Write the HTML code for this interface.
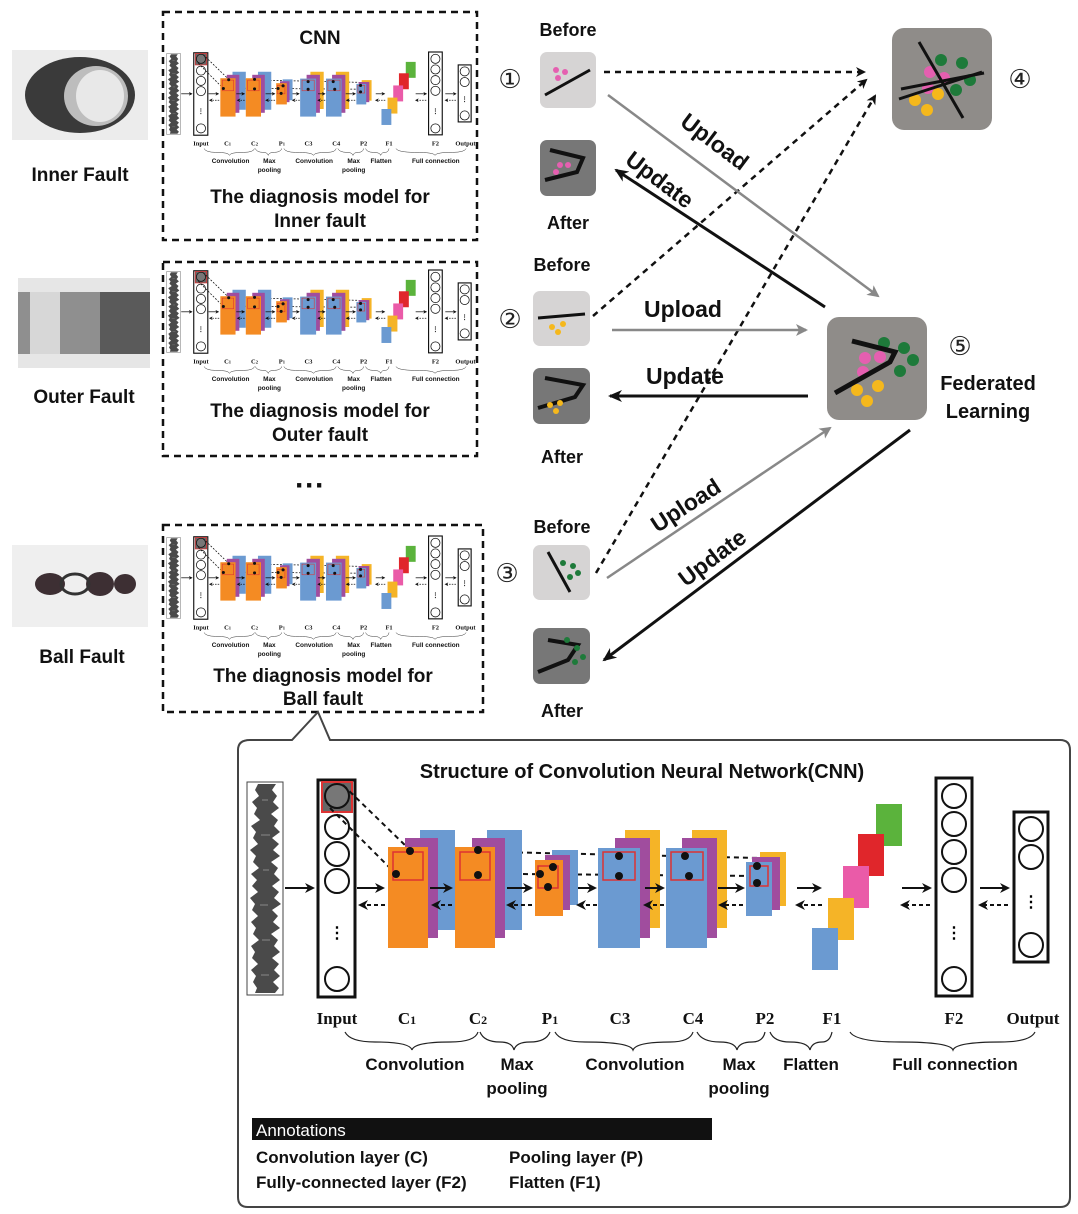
<!DOCTYPE html>
<html><head><meta charset="utf-8"><style>
html,body{margin:0;padding:0;background:#fff}
svg{display:block}
.s{font-family:"Liberation Sans",sans-serif;font-weight:bold}
.r{font-family:"Liberation Serif",serif;font-weight:bold}
</style></head><body>
<svg width="1078" height="1214" viewBox="0 0 1078 1214" xmlns="http://www.w3.org/2000/svg">
<defs>
<marker id="ab" markerWidth="10" markerHeight="10" refX="8" refY="5" orient="auto" markerUnits="userSpaceOnUse"><path d="M0,0 L10,5 L0,10 L3,5 z" fill="#111"/></marker>
<marker id="ag" markerWidth="12" markerHeight="12" refX="10" refY="6" orient="auto" markerUnits="userSpaceOnUse"><path d="M0,0 L12,6 L0,12 L3,6 z" fill="#888"/></marker>
<marker id="ak" markerWidth="14" markerHeight="12" refX="12" refY="6" orient="auto" markerUnits="userSpaceOnUse"><path d="M0,0 L14,6 L0,12 L4,6 z" fill="#111"/></marker>
<g id="cnn">
  <!-- signal -->
  <rect x="247" y="782" width="36" height="213" fill="#fff" stroke="#444" stroke-width="1"/>
  <path d="M258,784 L255,790 L259,796 L252,802 L257,808 L254,814 L260,820 L251,826 L256,832 L253,838 L258,844 L250,850 L256,856 L253,862 L259,868 L251,874 L257,880 L252,886 L258,892 L250,898 L255,904 L252,910 L258,916 L251,922 L256,928 L253,934 L259,940 L251,946 L255,952 L252,958 L258,964 L251,970 L256,976 L253,982 L257,988 L255,993 L275,993 L279,988 L273,982 L280,976 L274,970 L279,964 L272,958 L280,952 L274,946 L278,940 L271,934 L280,928 L273,922 L278,916 L272,910 L281,904 L274,898 L279,892 L272,886 L280,880 L274,874 L278,868 L271,862 L280,856 L273,850 L279,844 L272,838 L280,832 L274,826 L278,820 L271,814 L279,808 L273,802 L277,796 L272,790 L276,784 z" fill="#4a4a4a"/>
  <g stroke="#888" stroke-width="1"><line x1="262" y1="800" x2="268" y2="800"/><line x1="261" y1="835" x2="270" y2="835"/><line x1="263" y1="870" x2="269" y2="870"/><line x1="260" y1="905" x2="268" y2="905"/><line x1="262" y1="940" x2="270" y2="940"/><line x1="261" y1="975" x2="269" y2="975"/></g>
  <line x1="285" y1="888" x2="313" y2="888" stroke="#111" stroke-width="2" marker-end="url(#ab)"/>
  <!-- input column -->
  <rect x="318" y="780" width="37" height="217" fill="#fff" stroke="#111" stroke-width="3"/>
  <rect x="322" y="782" width="30" height="30" fill="#666" stroke="#d33" stroke-width="2"/>
  <circle cx="337" cy="796" r="12" fill="#777" stroke="#111" stroke-width="2"/>
  <g fill="none" stroke="#111" stroke-width="2"><circle cx="337" cy="827" r="12"/><circle cx="337" cy="854" r="12"/><circle cx="337" cy="881" r="12"/><circle cx="337" cy="979" r="12"/></g>
  <text x="337" y="938" font-size="16" text-anchor="middle" class="s">⋮</text>
  <g stroke="#111" stroke-width="2" stroke-dasharray="5,4" fill="none">
   <line x1="343" y1="785" x2="410" y2="850"/><line x1="330" y1="808" x2="395" y2="873"/>
   <path d="M410,850 L760,858"/><path d="M397,873 L760,876"/>
  </g>
  <!-- layers -->
  <g>
   <rect x="420" y="830" width="35" height="100" fill="#6b9ad1"/><rect x="405" y="838" width="33" height="100" fill="#a04d9e"/><rect x="388" y="847" width="40" height="101" fill="#f48b23"/>
   <rect x="487" y="830" width="35" height="100" fill="#6b9ad1"/><rect x="472" y="838" width="33" height="100" fill="#a04d9e"/><rect x="455" y="847" width="40" height="101" fill="#f48b23"/>
   <rect x="552" y="850" width="26" height="55" fill="#6b9ad1"/><rect x="545" y="855" width="25" height="55" fill="#a04d9e"/><rect x="535" y="860" width="28" height="56" fill="#f48b23"/>
   <rect x="625" y="830" width="35" height="98" fill="#f5b427"/><rect x="615" y="838" width="35" height="100" fill="#a04d9e"/><rect x="598" y="848" width="42" height="100" fill="#6b9ad1"/>
   <rect x="692" y="830" width="35" height="98" fill="#f5b427"/><rect x="682" y="838" width="35" height="100" fill="#a04d9e"/><rect x="666" y="848" width="41" height="100" fill="#6b9ad1"/>
   <rect x="760" y="852" width="26" height="54" fill="#f5b427"/><rect x="752" y="857" width="28" height="53" fill="#a04d9e"/><rect x="746" y="862" width="26" height="54" fill="#6b9ad1"/>
  </g>
  <g fill="none" stroke="#d33" stroke-width="1.5">
   <rect x="393" y="852" width="30" height="28"/><rect x="460" y="852" width="30" height="28"/><rect x="538" y="866" width="20" height="22"/><rect x="603" y="852" width="32" height="28"/><rect x="671" y="852" width="32" height="28"/><rect x="750" y="866" width="18" height="20"/>
  </g>
  <g fill="#111">
   <circle cx="410" cy="851" r="4"/><circle cx="396" cy="874" r="4"/><circle cx="478" cy="850" r="4"/><circle cx="478" cy="875" r="4"/><circle cx="553" cy="867" r="4"/><circle cx="540" cy="874" r="4"/><circle cx="548" cy="887" r="4"/><circle cx="619" cy="856" r="4"/><circle cx="619" cy="876" r="4"/><circle cx="685" cy="856" r="4"/><circle cx="689" cy="876" r="4"/><circle cx="757" cy="866" r="4"/><circle cx="757" cy="883" r="4"/>
  </g>
  <!-- arrows -->
  <g stroke="#111" stroke-width="2">
   <line x1="357" y1="888" x2="383" y2="888" marker-end="url(#ab)"/>
   <line x1="430" y1="888" x2="451" y2="888" marker-end="url(#ab)"/>
   <line x1="507" y1="888" x2="531" y2="888" marker-end="url(#ab)"/>
   <line x1="578" y1="888" x2="595" y2="888" marker-end="url(#ab)"/>
   <line x1="645" y1="888" x2="663" y2="888" marker-end="url(#ab)"/>
   <line x1="718" y1="888" x2="743" y2="888" marker-end="url(#ab)"/>
   <line x1="797" y1="888" x2="820" y2="888" marker-end="url(#ab)"/>
   <line x1="902" y1="888" x2="930" y2="888" marker-end="url(#ab)"/>
   <line x1="980" y1="888" x2="1008" y2="888" marker-end="url(#ab)"/>
  </g>
  <g stroke="#111" stroke-width="2" stroke-dasharray="4,3">
   <line x1="385" y1="905" x2="360" y2="905" marker-end="url(#ab)"/>
   <line x1="452" y1="905" x2="433" y2="905" marker-end="url(#ab)"/>
   <line x1="532" y1="905" x2="508" y2="905" marker-end="url(#ab)"/>
   <line x1="597" y1="905" x2="578" y2="905" marker-end="url(#ab)"/>
   <line x1="664" y1="905" x2="645" y2="905" marker-end="url(#ab)"/>
   <line x1="743" y1="905" x2="720" y2="905" marker-end="url(#ab)"/>
   <line x1="822" y1="905" x2="797" y2="905" marker-end="url(#ab)"/>
   <line x1="930" y1="905" x2="902" y2="905" marker-end="url(#ab)"/>
   <line x1="1008" y1="905" x2="980" y2="905" marker-end="url(#ab)"/>
  </g>
  <!-- F1 -->
  <rect x="876" y="804" width="26" height="42" fill="#5bb33c"/>
  <rect x="858" y="834" width="26" height="42" fill="#e0262b"/>
  <rect x="843" y="866" width="26" height="42" fill="#ea5ba8"/>
  <rect x="828" y="898" width="26" height="42" fill="#f5b427"/>
  <rect x="812" y="928" width="26" height="42" fill="#6b9ad1"/>
  <!-- F2 -->
  <rect x="936" y="778" width="36" height="218" fill="#fff" stroke="#111" stroke-width="3"/>
  <g fill="none" stroke="#111" stroke-width="2"><circle cx="954" cy="796" r="12"/><circle cx="954" cy="824" r="12"/><circle cx="954" cy="852" r="12"/><circle cx="954" cy="880" r="12"/><circle cx="954" cy="979" r="12"/></g>
  <text x="954" y="938" font-size="16" text-anchor="middle" class="s">⋮</text>
  <!-- output -->
  <rect x="1014" y="812" width="34" height="150" fill="#fff" stroke="#111" stroke-width="3"/>
  <g fill="none" stroke="#111" stroke-width="2"><circle cx="1031" cy="829" r="12"/><circle cx="1031" cy="857" r="12"/><circle cx="1031" cy="945" r="12"/></g>
  <text x="1031" y="907" font-size="16" text-anchor="middle" class="s">⋮</text>
  <!-- labels -->
  <g class="r" font-size="17" text-anchor="middle" fill="#111">
   <text x="337" y="1024">Input</text><text x="407" y="1024">C<tspan font-size="12">1</tspan></text><text x="478" y="1024">C<tspan font-size="12">2</tspan></text><text x="550" y="1024">P<tspan font-size="12">1</tspan></text><text x="620" y="1024">C3</text><text x="693" y="1024">C4</text><text x="765" y="1024">P2</text><text x="832" y="1024">F1</text><text x="954" y="1024">F2</text><text x="1033" y="1024">Output</text>
  </g>
  <g fill="none" stroke="#222" stroke-width="1.2">
   <path d="M345,1032 Q350,1042 375,1042 Q410,1042 412,1050 Q414,1042 450,1042 Q475,1042 478,1032"/>
   <path d="M480,1032 Q484,1042 500,1042 Q512,1042 514,1050 Q516,1042 530,1042 Q546,1042 550,1032"/>
   <path d="M555,1032 Q560,1042 585,1042 Q630,1042 633,1050 Q636,1042 670,1042 Q690,1042 693,1032"/>
   <path d="M697,1032 Q702,1042 720,1042 Q735,1042 737,1050 Q739,1042 752,1042 Q763,1042 765,1032"/>
   <path d="M770,1032 Q774,1042 790,1042 Q808,1042 810,1050 Q812,1042 822,1042 Q830,1042 832,1032"/>
   <path d="M850,1032 Q856,1042 900,1042 Q950,1042 953,1050 Q956,1042 1000,1042 Q1030,1042 1035,1032"/>
  </g>
  <g class="s" font-size="17" text-anchor="middle" fill="#111">
   <text x="415" y="1070">Convolution</text><text x="517" y="1070">Max</text><text x="517" y="1094">pooling</text><text x="635" y="1070">Convolution</text><text x="739" y="1070">Max</text><text x="739" y="1094">pooling</text><text x="811" y="1070">Flatten</text><text x="955" y="1070">Full connection</text>
  </g>
</g>
</defs>

<!-- photos -->
<rect x="12" y="50" width="136" height="90" fill="#ececec"/>
<ellipse cx="80" cy="95" rx="55" ry="38" fill="#3a3a3a"/><ellipse cx="96" cy="96" rx="32" ry="30" fill="#bdbdbd"/><ellipse cx="100" cy="96" rx="24" ry="26" fill="#e8e8e8"/>
<rect x="18" y="278" width="132" height="90" fill="#e6e6e6"/>
<rect x="18" y="292" width="132" height="62" fill="#8f8f8f"/><rect x="30" y="292" width="30" height="62" fill="#d7d7d7"/><rect x="100" y="292" width="50" height="62" fill="#5a5a5a"/>
<rect x="12" y="545" width="136" height="82" fill="#efefef"/>
<ellipse cx="50" cy="584" rx="15" ry="11" fill="#3d2f33"/><ellipse cx="100" cy="584" rx="14" ry="12" fill="#3d2f33"/><ellipse cx="125" cy="584" rx="11" ry="10" fill="#3d2f33"/><ellipse cx="75" cy="584" rx="14" ry="10" fill="none" stroke="#333" stroke-width="3"/>
<g class="s" font-size="19" text-anchor="middle" fill="#111">
<text x="80" y="181">Inner Fault</text><text x="84" y="403">Outer Fault</text><text x="82" y="663">Ball Fault</text>
</g>

<!-- model boxes -->
<g fill="none" stroke="#111" stroke-width="2.5" stroke-dasharray="7,5">
<rect x="163" y="12" width="314" height="228"/><rect x="163" y="262" width="314" height="194"/><rect x="163" y="525" width="320" height="187"/>
</g>
<use href="#cnn" transform="translate(166,52) scale(0.38) translate(-245,-778)"/>
<use href="#cnn" transform="translate(166,270) scale(0.38) translate(-245,-778)"/>
<use href="#cnn" transform="translate(166,536) scale(0.38) translate(-245,-778)"/>
<g class="s" font-size="19" text-anchor="middle" fill="#111">
<text x="320" y="44">CNN</text>
<text x="320" y="203">The diagnosis model for</text><text x="320" y="227">Inner fault</text>
<text x="320" y="417">The diagnosis model for</text><text x="320" y="441">Outer fault</text>
<text x="323" y="682">The diagnosis model for</text><text x="323" y="705">Ball fault</text>
<text x="310" y="495" font-size="30">···</text>
</g>

<!-- middle icons -->
<g class="s" font-size="18" text-anchor="middle" fill="#111">
<text x="568" y="36">Before</text><text x="568" y="229">After</text>
<text x="562" y="271">Before</text><text x="562" y="463">After</text>
<text x="562" y="533">Before</text><text x="562" y="717">After</text>
</g>
<g font-family="DejaVu Sans,sans-serif" font-size="26" text-anchor="middle" fill="#222">
<text x="510" y="88">①</text><text x="510" y="328">②</text><text x="507" y="582">③</text><text x="1020" y="88">④</text><text x="960" y="355">⑤</text>
</g>
<rect x="540" y="52" width="56" height="56" rx="7" fill="#d6d4d4"/>
<line x1="545" y1="95" x2="590" y2="70" stroke="#111" stroke-width="3"/><g fill="#e55fb0"><circle cx="556" cy="70" r="3"/><circle cx="565" cy="72" r="3"/><circle cx="558" cy="78" r="3"/></g>
<rect x="540" y="140" width="56" height="56" rx="7" fill="#777"/>
<path d="M550,150 L583,158 L577,172 L545,180" fill="none" stroke="#111" stroke-width="4"/><g fill="#e55fb0"><circle cx="560" cy="165" r="3"/><circle cx="568" cy="165" r="3"/><circle cx="556" cy="172" r="3"/></g>
<rect x="533" y="291" width="57" height="55" rx="7" fill="#d6d4d4"/>
<line x1="538" y1="318" x2="585" y2="314" stroke="#111" stroke-width="3"/><g fill="#f5b81c"><circle cx="552" cy="327" r="3"/><circle cx="563" cy="324" r="3"/><circle cx="558" cy="332" r="3"/></g>
<rect x="533" y="368" width="57" height="56" rx="7" fill="#777"/>
<path d="M545,378 L583,385 L575,397 L538,408" fill="none" stroke="#111" stroke-width="4"/><g fill="#f5b81c"><circle cx="550" cy="405" r="3"/><circle cx="560" cy="403" r="3"/><circle cx="556" cy="411" r="3"/></g>
<rect x="533" y="545" width="57" height="55" rx="7" fill="#d6d4d4"/>
<line x1="548" y1="552" x2="570" y2="592" stroke="#111" stroke-width="3"/><g fill="#1e7a3a"><circle cx="563" cy="563" r="3"/><circle cx="573" cy="566" r="3"/><circle cx="578" cy="573" r="3"/><circle cx="570" cy="577" r="3"/></g>
<rect x="533" y="628" width="57" height="56" rx="7" fill="#777"/>
<path d="M548,640 L578,645 L568,660 L538,672" fill="none" stroke="#111" stroke-width="4"/><g fill="#1e7a3a"><circle cx="567" cy="640" r="3"/><circle cx="577" cy="648" r="3"/><circle cx="583" cy="657" r="3"/><circle cx="575" cy="662" r="3"/></g>

<!-- big icons -->
<rect x="892" y="28" width="100" height="102" rx="12" fill="#8f8c89"/>
<g fill="#1e7a3a"><circle cx="941" cy="60" r="6"/><circle cx="962" cy="63" r="6"/><circle cx="970" cy="80" r="6"/><circle cx="956" cy="90" r="6"/></g>
<g fill="#e55fb0"><circle cx="930" cy="72" r="6"/><circle cx="944" cy="78" r="6"/><circle cx="928" cy="88" r="6"/></g>
<g fill="#f5b81c"><circle cx="915" cy="100" r="6"/><circle cx="938" cy="94" r="6"/><circle cx="927" cy="110" r="6"/></g>
<g stroke="#111" stroke-width="3"><line x1="919" y1="42" x2="963" y2="118"/><line x1="899" y1="99" x2="982" y2="72"/><line x1="901" y1="89" x2="984" y2="73"/></g>
<rect x="827" y="317" width="100" height="103" rx="12" fill="#8f8c89"/>
<g fill="#1e7a3a"><circle cx="884" cy="343" r="6"/><circle cx="904" cy="348" r="6"/><circle cx="913" cy="360" r="6"/><circle cx="900" cy="371" r="6"/></g>
<g fill="#e55fb0"><circle cx="865" cy="358" r="6"/><circle cx="880" cy="357" r="6"/><circle cx="863" cy="372" r="6"/></g>
<g fill="#f5b81c"><circle cx="857" cy="390" r="6"/><circle cx="878" cy="386" r="6"/><circle cx="867" cy="401" r="6"/></g>
<path d="M852,341 L895,352 L890,362 L835,393" fill="none" stroke="#111" stroke-width="5"/>
<g class="s" font-size="20" text-anchor="middle" fill="#111"><text x="988" y="390">Federated</text><text x="988" y="418">Learning</text></g>

<!-- connectors -->
<g stroke="#111" stroke-width="2.5" stroke-dasharray="6,5" fill="none">
<line x1="604" y1="72" x2="864" y2="72" marker-end="url(#ab)"/>
<line x1="593" y1="316" x2="866" y2="80" marker-end="url(#ab)"/>
<line x1="596" y1="573" x2="875" y2="96" marker-end="url(#ab)"/>
</g>
<g stroke="#888" stroke-width="2.5">
<line x1="608" y1="95" x2="878" y2="296" marker-end="url(#ag)"/>
<line x1="612" y1="330" x2="806" y2="330" marker-end="url(#ag)"/>
<line x1="607" y1="578" x2="830" y2="428" marker-end="url(#ag)"/>
</g>
<g stroke="#111" stroke-width="3">
<line x1="825" y1="307" x2="616" y2="170" marker-end="url(#ak)"/>
<line x1="808" y1="396" x2="610" y2="396" marker-end="url(#ak)"/>
<line x1="910" y1="430" x2="604" y2="660" marker-end="url(#ak)"/>
</g>
<g class="s" font-size="23" text-anchor="middle" fill="#111">
<text transform="translate(710,148) rotate(37)">Upload</text>
<text transform="translate(655,186) rotate(37)">Update</text>
<text x="683" y="317">Upload</text>
<text x="685" y="384">Update</text>
<text transform="translate(690,512) rotate(-33)">Upload</text>
<text transform="translate(717,564) rotate(-37)">Update</text>
</g>

<!-- bottom panel -->
<path d="M250,740 L292,740 L318,712 L330,740 L1060,740 Q1070,740 1070,750 L1070,1197 Q1070,1207 1060,1207 L248,1207 Q238,1207 238,1197 L238,750 Q238,740 250,740 Z" fill="#fff" stroke="#444" stroke-width="2"/>
<text x="642" y="778" class="s" font-size="20" text-anchor="middle" fill="#111">Structure of Convolution Neural Network(CNN)</text>
<use href="#cnn"/>
<rect x="252" y="1118" width="460" height="22" fill="#111"/>
<g class="s" font-size="17" fill="#111">
<text x="256" y="1136" fill="#fff" font-weight="normal">Annotations</text>
<text x="256" y="1163">Convolution layer (C)</text><text x="509" y="1163">Pooling layer (P)</text>
<text x="256" y="1188">Fully-connected layer (F2)</text><text x="509" y="1188">Flatten (F1)</text>
</g>
</svg>
</body></html>
